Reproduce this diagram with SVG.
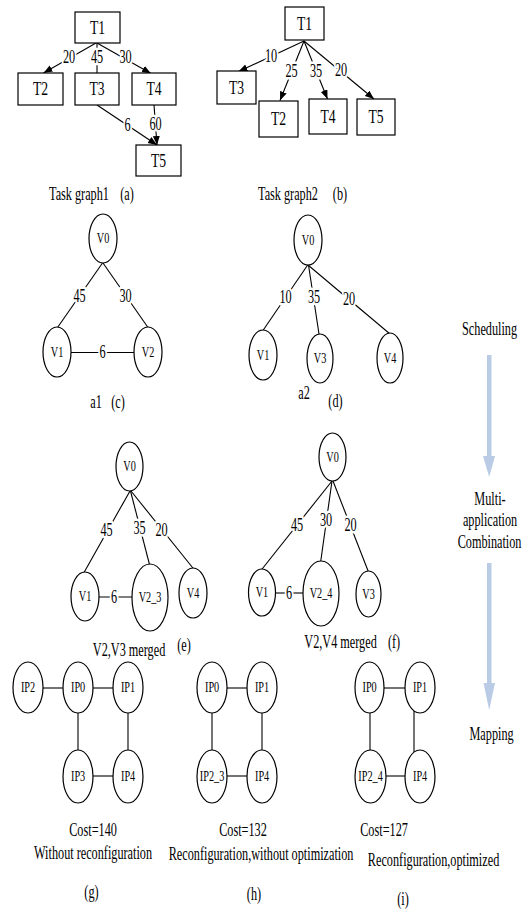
<svg xmlns="http://www.w3.org/2000/svg" width="529" height="911" viewBox="0 0 529 911">
<defs>
<marker id="ah" markerWidth="10" markerHeight="8" refX="9" refY="3.5" orient="auto" markerUnits="userSpaceOnUse"><path d="M0,0 L9,3.5 L0,7 z" fill="#000"/></marker>
</defs>
<style>
text{font-family:"Liberation Serif","Times New Roman",serif;fill:#000;text-anchor:middle;transform-box:fill-box;transform-origin:center;transform:scaleX(.68)}
.n{font-size:15.5px;transform:scaleX(.66)}
.T{font-size:18.5px;transform:scaleX(.74)}
.w{font-size:18px;paint-order:stroke;stroke:#fff;stroke-width:5px;stroke-linejoin:round}
.c{font-size:18px}
rect.box{fill:#fff;stroke:#000;stroke-width:1.2}
ellipse{fill:#fff;stroke:#000;stroke-width:1.2}
line{stroke:#000;stroke-width:1.1;fill:none}
.ar{marker-end:url(#ah)}
.blue{fill:#b9cbe5}
</style>
<rect width="529" height="911" fill="#fff"/>
<g id="connectors">
<!-- (a) -->
<line class="ar" x1="96" y1="43" x2="43.5" y2="73"/>
<line class="ar" x1="97" y1="43" x2="151" y2="73.5"/>
<line x1="97" y1="43" x2="97" y2="73"/>
<line class="ar" x1="97" y1="105" x2="157" y2="145"/>
<line class="ar" x1="154" y1="105" x2="157" y2="145"/>
<!-- (b) -->
<line class="ar" x1="304" y1="41" x2="238.5" y2="71.5"/>
<line class="ar" x1="304" y1="41" x2="280" y2="100.5"/>
<line class="ar" x1="304" y1="41" x2="327.5" y2="99"/>
<line class="ar" x1="304" y1="41" x2="374" y2="99"/>
<!-- (c) -->
<line x1="102.5" y1="263" x2="57.5" y2="327.5"/>
<line x1="103" y1="263" x2="148" y2="327.5"/>
<line x1="71" y1="352.5" x2="134" y2="352.5"/>
<!-- (d) -->
<line x1="307.7" y1="265" x2="263.3" y2="330"/>
<line x1="308.5" y1="265" x2="319" y2="334"/>
<line x1="308" y1="265" x2="390" y2="334"/>
<!-- (e) -->
<line x1="130" y1="491" x2="84" y2="572.5"/>
<line x1="130.5" y1="491" x2="149.5" y2="564.5"/>
<line x1="131" y1="491" x2="193.3" y2="568.5"/>
<line x1="99" y1="597" x2="132" y2="597"/>
<!-- (f) -->
<line x1="332" y1="481" x2="261.7" y2="569.5"/>
<line x1="332" y1="481" x2="320.7" y2="561.5"/>
<line x1="333" y1="481" x2="368.3" y2="571.5"/>
<line x1="275.5" y1="593" x2="303" y2="593"/>
<!-- (g) -->
<line x1="43" y1="688" x2="63" y2="688"/>
<line x1="93" y1="688" x2="113" y2="688"/>
<line x1="78" y1="713" x2="78" y2="750"/>
<line x1="128" y1="713" x2="128" y2="750"/>
<line x1="93" y1="776" x2="113" y2="776"/>
<!-- (h) -->
<line x1="227" y1="688" x2="247" y2="688"/>
<line x1="212" y1="713" x2="212" y2="750"/>
<line x1="262" y1="713" x2="262" y2="750"/>
<line x1="227" y1="776" x2="247" y2="776"/>
<!-- (i) -->
<line x1="384" y1="688" x2="405" y2="688"/>
<line x1="370" y1="713" x2="370" y2="750"/>
<line x1="414" y1="711" x2="414" y2="752"/>
<line x1="386" y1="776" x2="405" y2="776"/>
<!-- weights -->
<text class="w" x="69" y="63.5">20</text>
<text class="w" x="97" y="63.5">45</text>
<text class="w" x="125.5" y="63.5">30</text>
<text class="w" x="127.5" y="131.5">6</text>
<text class="w" x="155.5" y="130">60</text>
<text class="w" x="271" y="62.5">10</text>
<text class="w" x="291.5" y="77">25</text>
<text class="w" x="316" y="77">35</text>
<text class="w" x="341" y="76">20</text>
<text class="w" x="79.5" y="302">45</text>
<text class="w" x="125.5" y="302">30</text>
<text class="w" x="102.5" y="358.5">6</text>
<text class="w" x="285.5" y="303.5">10</text>
<text class="w" x="314" y="303.5">35</text>
<text class="w" x="349" y="305.5">20</text>
<text class="w" x="106.5" y="536.5">45</text>
<text class="w" x="139.5" y="534">35</text>
<text class="w" x="161.5" y="536">20</text>
<text class="w" x="114" y="603">6</text>
<text class="w" x="297" y="531">45</text>
<text class="w" x="326" y="526.5">30</text>
<text class="w" x="350.5" y="531.5">20</text>
<text class="w" x="289" y="599">6</text>
</g>
<!-- (a) nodes -->
<g id="a-T1"><rect class="box" x="75" y="12" width="45" height="31"/><text class="T" x="97.5" y="34">T1</text></g>
<g id="a-T2"><rect class="box" x="18" y="73" width="45" height="32"/><text class="T" x="40.5" y="95.5">T2</text></g>
<g id="a-T3"><rect class="box" x="75" y="73" width="44" height="32"/><text class="T" x="97" y="95.5">T3</text></g>
<g id="a-T4"><rect class="box" x="132" y="73" width="44" height="32"/><text class="T" x="154" y="95.5">T4</text></g>
<g id="a-T5"><rect class="box" x="136" y="145" width="45" height="31"/><text class="T" x="158.5" y="167">T5</text></g>
<g id="cap-a"><text class="c" x="79" y="200">Task graph1</text><text class="c" x="127" y="200">(a)</text></g>
<!-- (b) nodes -->
<g id="b-T1"><rect class="box" x="285" y="7" width="39" height="33"/><text class="T" x="304.5" y="30">T1</text></g>
<g id="b-T3"><rect class="box" x="217" y="71" width="39" height="33"/><text class="T" x="236.5" y="94">T3</text></g>
<g id="b-T2"><rect class="box" x="259" y="101" width="39" height="36"/><text class="T" x="278.5" y="125.5">T2</text></g>
<g id="b-T4"><rect class="box" x="309" y="99" width="38" height="35"/><text class="T" x="328" y="123">T4</text></g>
<g id="b-T5"><rect class="box" x="357" y="99" width="38" height="36"/><text class="T" x="376" y="123.5">T5</text></g>
<g id="cap-b"><text class="c" x="288" y="200">Task graph2</text><text class="c" x="340" y="200">(b)</text></g>
<!-- (c) -->
<g id="c-V0"><ellipse cx="103" cy="238.5" rx="14" ry="24.5"/><text class="n" x="103" y="243.5">V0</text></g>
<g id="c-V1"><ellipse cx="57" cy="352" rx="14" ry="25"/><text class="n" x="57" y="357">V1</text></g>
<g id="c-V2"><ellipse cx="148" cy="352" rx="14" ry="25"/><text class="n" x="148" y="357">V2</text></g>
<g id="cap-c"><text class="c" x="96" y="408">a1</text><text class="c" x="118" y="408">(c)</text></g>
<!-- (d) -->
<g id="d-V0"><ellipse cx="308" cy="240" rx="14" ry="25"/><text class="n" x="308" y="245">V0</text></g>
<g id="d-V1"><ellipse cx="263" cy="355" rx="14" ry="25"/><text class="n" x="263" y="360">V1</text></g>
<g id="d-V3"><ellipse cx="320" cy="358.5" rx="13" ry="24.5"/><text class="n" x="320" y="363.5">V3</text></g>
<g id="d-V4"><ellipse cx="390" cy="358" rx="13" ry="25"/><text class="n" x="390" y="363">V4</text></g>
<g id="cap-d"><text class="c" x="304" y="399">a2</text><text class="c" x="335.5" y="407">(d)</text></g>
<!-- (e) -->
<g id="e-V0"><ellipse cx="129.5" cy="466.5" rx="13.5" ry="24.5"/><text class="n" x="129.5" y="471.5">V0</text></g>
<g id="e-V1"><ellipse cx="85" cy="596.5" rx="14" ry="24.5"/><text class="n" x="85" y="601.5">V1</text></g>
<g id="e-V2_3"><ellipse cx="150" cy="597.5" rx="18" ry="33.5"/><text class="n" x="150" y="602.5">V2_3</text></g>
<g id="e-V4"><ellipse cx="193" cy="593" rx="14" ry="25"/><text class="n" x="193" y="598">V4</text></g>
<g id="cap-e"><text class="c" x="129" y="656">V2,V3 merged</text><text class="c" x="184" y="651">(e)</text></g>
<!-- (f) -->
<g id="f-V0"><ellipse cx="332.5" cy="457" rx="13.5" ry="24"/><text class="n" x="332.5" y="462">V0</text></g>
<g id="f-V1"><ellipse cx="262" cy="592.5" rx="13.5" ry="23.5"/><text class="n" x="262" y="597.5">V1</text></g>
<g id="f-V2_4"><ellipse cx="321" cy="593.5" rx="18" ry="32.5"/><text class="n" x="321" y="598.5">V2_4</text></g>
<g id="f-V3"><ellipse cx="368.5" cy="594" rx="12.5" ry="23"/><text class="n" x="368.5" y="599">V3</text></g>
<g id="cap-f"><text class="c" x="340.5" y="648">V2,V4 merged</text><text class="c" x="394" y="648">(f)</text></g>
<!-- (g) -->
<g id="g-IP2"><ellipse cx="28" cy="687.5" rx="15" ry="25.5"/><text class="n" x="28" y="692.5">IP2</text></g>
<g id="g-IP0"><ellipse cx="78" cy="687.5" rx="15" ry="25.5"/><text class="n" x="78" y="692.5">IP0</text></g>
<g id="g-IP1"><ellipse cx="128" cy="687.5" rx="15" ry="25.5"/><text class="n" x="128" y="692.5">IP1</text></g>
<g id="g-IP3"><ellipse cx="78" cy="776.5" rx="15" ry="26.5"/><text class="n" x="78" y="781.5">IP3</text></g>
<g id="g-IP4"><ellipse cx="128" cy="776.5" rx="15" ry="26.5"/><text class="n" x="128" y="781.5">IP4</text></g>
<g id="cap-g"><text class="c" x="93" y="836">Cost=140</text><text class="c" x="93" y="859">Without reconfiguration</text><text class="c" x="91.5" y="898">(g)</text></g>
<!-- (h) -->
<g id="h-IP0"><ellipse cx="212" cy="687.5" rx="15" ry="25.5"/><text class="n" x="212" y="692.5">IP0</text></g>
<g id="h-IP1"><ellipse cx="262" cy="687.5" rx="15" ry="25.5"/><text class="n" x="262" y="692.5">IP1</text></g>
<g id="h-IP2_3"><ellipse cx="212" cy="776.5" rx="15" ry="26.5"/><text class="n" x="212" y="781.5">IP2_3</text></g>
<g id="h-IP4"><ellipse cx="262" cy="776.5" rx="15" ry="26.5"/><text class="n" x="262" y="781.5">IP4</text></g>
<g id="cap-h"><text class="c" x="243" y="836">Cost=132</text><text class="c" x="261" y="860">Reconfiguration,without optimization</text><text class="c" x="254" y="900">(h)</text></g>
<!-- (i) -->
<g id="i-IP0"><ellipse cx="369.5" cy="687.5" rx="14.5" ry="25.5"/><text class="n" x="369.5" y="692.5">IP0</text></g>
<g id="i-IP1"><ellipse cx="420" cy="687.5" rx="15" ry="25.5"/><text class="n" x="420" y="692.5">IP1</text></g>
<g id="i-IP2_4"><ellipse cx="370.5" cy="776.5" rx="15.5" ry="26.5"/><text class="n" x="370.5" y="781.5">IP2_4</text></g>
<g id="i-IP4"><ellipse cx="420" cy="776.5" rx="15" ry="26.5"/><text class="n" x="420" y="781.5">IP4</text></g>
<g id="cap-i"><text class="c" x="384" y="836">Cost=127</text><text class="c" x="433.5" y="866">Reconfiguration,optimized</text><text class="c" x="403" y="905">(i)</text></g>
<!-- process flow -->
<g id="flow">
<text class="c" x="489.5" y="335">Scheduling</text>
<rect class="blue" x="487" y="355" width="4.5" height="103"/>
<polygon class="blue" points="483,456 495,456 489.2,477"/>
<text class="c" x="490" y="505">Multi-</text>
<text class="c" x="490" y="526">application</text>
<text class="c" x="489.5" y="548">Combination</text>
<rect class="blue" x="487" y="563" width="4.5" height="122"/>
<polygon class="blue" points="483.5,683 495,683 489.2,710"/>
<text class="c" x="491.5" y="740">Mapping</text>
</g>
</svg>
